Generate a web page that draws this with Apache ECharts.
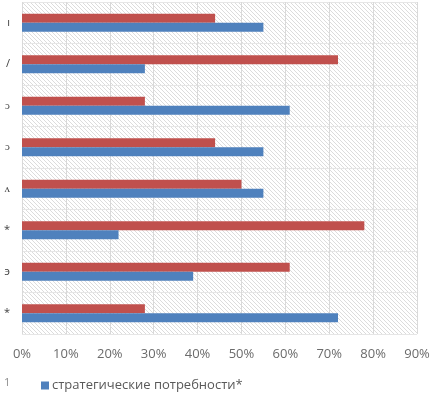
<!DOCTYPE html>
<html>
<head>
<meta charset="utf-8">
<script src="https://cdn.jsdelivr.net/npm/echarts@6/dist/echarts.min.js"></script>
<style>
  html, body { margin: 0; padding: 0; background: #fff; }
  #chart { width: 433px; height: 399px; }
</style>
</head>
<body>
<div id="chart"></div>
<script>
// category labels are cut off at the left edge in the original, only tails remain
var categories = ['ı', '/', 'ɔ', 'ɔ', 'ʌ', '*', 'э', '*'];
var redValues = [44, 72, 28, 44, 50, 78, 61, 28];
var blueValues = [55, 28, 61, 55, 55, 22, 39, 72];
var ticks = ['0%', '10%', '20%', '30%', '40%', '50%', '60%', '70%', '80%', '90%'];

// diagonal hatch, like the scanned background
function hatch() {
    var c = document.createElement('canvas');
    c.width = 4;
    c.height = 4;
    var ctx = c.getContext('2d');
    ctx.fillStyle = '#ffffff';
    ctx.fillRect(0, 0, 4, 4);
    ctx.strokeStyle = '#dcdcdc';
    ctx.lineWidth = 1;
    ctx.beginPath();
    ctx.moveTo(0, 0);
    ctx.lineTo(4, 4);
    ctx.stroke();
    return c;
}

var chart = echarts.init(document.getElementById('chart'));

chart.setOption({
    animation: false,
    textStyle: { fontFamily: 'Open Sans' },
    grid: {
        left: 22,
        right: 16,
        top: 2,
        bottom: 65,
        show: true,
        borderWidth: 0,
        backgroundColor: { image: hatch(), repeat: 'repeat' }
    },
    legend: {
        data: ['стратегические потребности*'],
        left: 36,
        top: 374,
        icon: 'rect',
        itemWidth: 8,
        itemHeight: 8,
        itemGap: 4,
        textStyle: { color: '#595959', fontSize: 13, padding: [0, 0, 0, -2] }
    },
    graphic: [{
        type: 'text',
        left: 4,
        top: 377,
        style: { text: '1', fill: '#8c8c8c', fontSize: 11, fontFamily: 'Open Sans' }
    }],
    xAxis: {
        type: 'value',
        min: 0,
        max: 90,
        interval: 10,
        axisLine: { show: false },
        axisTick: { show: false },
        axisLabel: {
            color: '#6b6b6b',
            fontSize: 13,
            margin: 14,
            formatter: function (v) { return ticks[Math.round(v / 10)]; }
        },
        splitLine: { lineStyle: { color: '#d9d9d9', width: 1 } }
    },
    yAxis: {
        type: 'category',
        inverse: true,
        data: categories,
        axisLine: { show: false },
        axisTick: { show: false },
        axisLabel: { color: '#404040', fontSize: 11, margin: 12 },
        splitLine: { show: true, lineStyle: { color: '#e6e6e6', width: 1 } }
    },
    series: [{
        name: 'red',
        type: 'bar',
        data: redValues,
        barWidth: 9,
        barGap: '0%',
        itemStyle: { color: '#C0504D' }
    }, {
        name: 'стратегические потребности*',
        type: 'bar',
        data: blueValues,
        barWidth: 9,
        itemStyle: { color: '#4F81BD' }
    }]
});
</script>
</body>
</html>
